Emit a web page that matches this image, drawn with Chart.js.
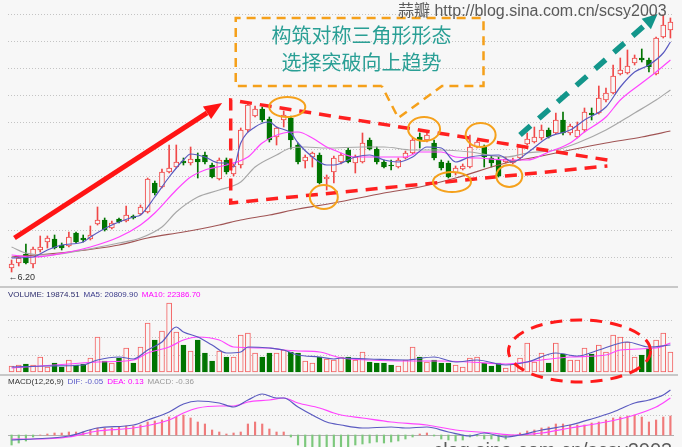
<!DOCTYPE html>
<html>
<head>
<meta charset="utf-8">
<script src="https://cdn.jsdelivr.net/npm/chart.js@4"></script>
<style>
  html, body { margin: 0; padding: 0; background: #f7f7f7; }
  canvas { display: block; }
</style>
</head>
<body>
<canvas id="kline" width="682" height="447"></canvas>
<script>
// daily bars, left to right
var days = Array.from({length: 93}, function (_, i) { return 'D' + (i + 1); });

var openP = [6.40, 6.65, 7.10, 6.60, 7.30, 7.70, 7.85, 7.55, 7.50, 8.15,
  7.90, 7.85, 8.60, 8.80, 8.40, 8.85, 8.75, 9.00, 9.10, 9.20,
  10.65, 10.45, 11.20, 11.45, 11.75, 11.65, 11.85, 12.05, 11.55, 10.85,
  11.80, 11.10, 11.55, 13.30, 14.00, 14.35, 13.85, 12.95, 13.80, 13.90,
  12.55, 11.75, 11.95, 12.05, 10.85, 11.20, 11.70, 12.30, 11.65, 11.70,
  12.80, 12.35, 11.70, 11.55, 11.45, 11.90, 12.15, 12.95, 12.80, 12.65,
  11.70, 11.65, 11.15, 11.35, 11.45, 12.45, 12.45, 11.90, 11.80, 11.70,
  11.65, 11.90, 12.60, 12.70, 12.90, 13.30, 13.15, 13.80, 13.15, 12.95,
  13.30, 14.15, 14.15, 14.80, 15.15, 16.10, 16.15, 16.65, 16.90, 16.80,
  16.10, 17.95, 18.30];
var closeP = [6.60, 6.90, 6.65, 7.35, 7.45, 7.90, 7.40, 7.40, 7.95, 7.70,
  7.80, 8.05, 8.80, 8.30, 8.65, 8.70, 9.05, 8.90, 9.45, 10.85,
  10.15, 11.20, 11.40, 11.70, 11.65, 11.85, 11.70, 11.70, 10.95, 11.80,
  11.20, 11.50, 13.30, 14.55, 14.35, 13.80, 12.80, 13.40, 14.05, 12.80,
  11.70, 11.95, 12.15, 10.65, 10.95, 11.90, 12.05, 11.70, 11.95, 12.65,
  12.35, 11.70, 11.45, 11.50, 11.80, 12.15, 12.80, 12.80, 13.05, 11.90,
  11.40, 10.95, 11.40, 11.50, 12.45, 12.70, 11.95, 11.65, 11.00, 11.85,
  11.80, 12.45, 12.85, 12.95, 13.30, 12.95, 13.80, 13.15, 13.50, 13.30,
  14.20, 14.05, 14.90, 15.15, 16.00, 16.30, 16.50, 16.90, 16.80, 16.45,
  17.90, 18.55, 18.70];
var highP = [6.80, 7.00, 7.60, 7.45, 8.00, 8.00, 8.05, 7.65, 8.20, 8.20,
  8.05, 8.50, 9.45, 8.90, 8.75, 8.90, 9.50, 9.05, 9.55, 10.90,
  10.75, 11.35, 12.55, 12.55, 11.90, 12.45, 12.15, 12.20, 11.65, 11.90,
  11.90, 11.60, 13.40, 14.65, 14.50, 14.45, 13.95, 13.45, 14.25, 14.00,
  12.65, 12.05, 12.20, 12.15, 11.05, 12.00, 12.15, 12.40, 12.05, 13.15,
  12.90, 12.45, 11.80, 11.80, 11.90, 12.25, 12.90, 13.15, 13.20, 12.80,
  11.80, 11.75, 11.50, 11.60, 13.05, 12.80, 12.55, 12.00, 11.95, 11.95,
  11.90, 12.55, 13.15, 13.45, 13.55, 13.40, 14.15, 14.20, 13.60, 13.70,
  14.40, 14.40, 15.50, 15.40, 16.55, 16.90, 17.30, 17.05, 17.35, 16.90,
  17.95, 19.05, 18.90];
var lowP = [6.20, 6.50, 6.60, 6.40, 7.20, 7.40, 7.35, 7.30, 7.45, 7.65,
  7.70, 7.80, 8.55, 8.25, 8.35, 8.65, 8.70, 8.85, 9.05, 9.15,
  10.05, 10.40, 11.15, 11.40, 11.55, 11.55, 10.90, 11.60, 10.90, 10.80,
  11.10, 11.00, 11.40, 13.20, 13.95, 13.70, 12.70, 12.55, 13.45, 12.35,
  11.60, 11.40, 11.45, 10.60, 10.30, 10.65, 11.60, 11.65, 11.15, 11.65,
  12.30, 11.60, 11.40, 11.30, 11.40, 11.85, 12.10, 12.40, 12.70, 11.80,
  11.30, 10.90, 11.05, 11.30, 11.40, 12.40, 11.45, 11.45, 10.95, 11.65,
  11.60, 11.80, 12.55, 12.65, 12.80, 12.90, 13.10, 13.05, 13.05, 12.90,
  13.20, 13.80, 14.10, 14.70, 15.10, 16.05, 16.10, 16.55, 16.70, 16.20,
  16.05, 17.90, 17.90];

var volume = [6000, 7000, 8000, 7000, 15000, 5000, 9000, 5000, 12000, 7000,
  8000, 14000, 35000, 11000, 9000, 14000, 24000, 9000, 25000, 49000,
  32000, 41000, 69000, 40000, 27000, 21000, 32000, 19000, 11000, 21000,
  15000, 15000, 37000, 39000, 19000, 15000, 19000, 19000, 22000, 20000,
  19000, 11000, 9000, 15000, 13000, 12000, 15000, 15000, 12000, 20000,
  10000, 9000, 9000, 7000, 6000, 12000, 25000, 15000, 10000, 12000,
  9000, 9000, 7000, 5000, 14000, 15000, 9000, 6000, 9000, 4000,
  8000, 14000, 29000, 10000, 19000, 9000, 29000, 18000, 12000, 12000,
  24000, 18000, 27000, 20000, 37000, 35000, 30000, 15000, 17000, 24000,
  32000, 39000, 19874.51];

var macdHist = [-0.10, -0.08, -0.06, -0.02, 0.00, 0.01, 0.02, 0.02, 0.03, 0.03,
  0.03, 0.05, 0.07, 0.07, 0.07, 0.08, 0.09, 0.09, 0.10, 0.13,
  0.14, 0.15, 0.18, 0.18, 0.20, 0.17, 0.13, 0.11, 0.05, 0.03,
  0.01, 0.02, 0.03, 0.11, 0.13, 0.11, 0.06, 0.03, 0.03, -0.02,
  -0.10, -0.14, -0.15, -0.16, -0.15, -0.14, -0.13, -0.12, -0.10, -0.09,
  -0.08, -0.07, -0.08, -0.07, -0.06, -0.04, -0.02, 0.01, 0.02, -0.01,
  -0.04, -0.05, -0.06, -0.05, -0.02, -0.01, -0.04, -0.04, -0.06, -0.04,
  0.00, 0.02, 0.04, 0.05, 0.07, 0.08, 0.11, 0.11, 0.10, 0.10,
  0.10, 0.12, 0.13, 0.15, 0.17, 0.18, 0.19, 0.20, 0.18, 0.13,
  0.15, 0.18, 0.19];

// moving averages: [bar index, value]
var ma5Pts = [[0, 6.90], [3, 6.95], [5, 7.30], [7, 7.55], [10, 7.70], [11, 7.95], [14, 8.55], [17, 8.95],
  [18, 9.05], [20, 9.95], [22, 10.95], [24, 11.80], [25, 12.10], [27, 11.95], [29, 11.65], [30, 11.65],
  [31, 11.45], [32, 12.65], [34, 13.45], [36, 13.70], [37, 13.45], [39, 13.15], [40, 12.65], [42, 11.95],
  [44, 11.55], [45, 11.55], [48, 11.95], [50, 12.05], [52, 11.80], [54, 11.70], [56, 11.95], [58, 12.45],
  [60, 12.40], [62, 11.70], [64, 11.95], [68, 12.05], [70, 11.70], [72, 12.15], [75, 12.95], [78, 13.30],
  [80, 13.80], [83, 14.45], [85, 15.45], [87, 16.20], [89, 16.55], [91, 17.15], [92, 17.70]];
var ma10Pts = [[0, 7.05], [3, 6.95], [8, 7.20], [11, 7.45], [15, 7.95], [18, 8.55], [20, 9.15], [23, 10.30],
  [25, 10.95], [27, 11.30], [30, 11.55], [33, 11.95], [35, 12.65], [38, 13.15], [40, 13.20], [42, 12.90],
  [44, 12.45], [45, 12.30], [48, 11.95], [51, 11.95], [55, 11.95], [57, 12.20], [60, 12.20], [62, 11.95],
  [65, 11.90], [69, 11.80], [72, 11.80], [75, 12.20], [78, 12.65], [80, 13.20], [83, 13.95], [85, 14.80],
  [88, 15.65], [90, 16.20], [92, 16.80]];
var ma30Pts = [[0, 7.45], [2, 7.15], [5, 7.05], [10, 7.30], [15, 7.65], [18, 7.90], [21, 8.45], [23, 9.20],
  [26, 9.95], [29, 10.30], [32, 10.70], [34, 11.45], [37, 12.05], [39, 12.40], [41, 12.45], [44, 12.40],
  [49, 12.45], [52, 12.45], [56, 12.30], [60, 12.30], [64, 12.20], [69, 11.95], [72, 12.15], [76, 12.30],
  [79, 12.65], [83, 13.30], [87, 14.15], [90, 14.80], [92, 15.30]];
var ma60Pts = [[0, 6.95], [8, 7.20], [15, 7.55], [19, 7.90], [24, 8.20], [29, 8.55], [32, 8.80], [36, 9.05],
  [40, 9.35], [45, 9.65], [52, 10.15], [57, 10.45], [62, 10.90], [69, 11.65], [74, 12.00], [78, 12.30],
  [83, 12.65], [88, 12.95], [92, 13.25]];

var volMa5Pts = [[0, 5000], [5, 6000], [10, 7000], [12, 12000], [15, 15000], [17, 13000], [19, 22000],
  [21, 30000], [23, 45000], [24, 40000], [26, 35000], [28, 27000], [30, 19000], [32, 20000], [33, 25000],
  [36, 24000], [38, 22000], [40, 17000], [43, 15000], [45, 13000], [46, 14000], [50, 13000], [55, 12000],
  [59, 15000], [62, 10000], [65, 12000], [69, 7000], [72, 10000], [76, 19000], [79, 16000], [82, 22000],
  [86, 30000], [89, 25000], [92, 27000]];
var volMa10Pts = [[0, 4000], [8, 8000], [12, 10000], [17, 12000], [19, 19000], [22, 25000], [24, 32000],
  [26, 35000], [29, 32000], [31, 25000], [36, 24000], [38, 22000], [40, 21000], [43, 20000], [45, 16000],
  [46, 14000], [50, 12000], [55, 11000], [60, 11000], [64, 10000], [69, 8000], [74, 12000], [78, 15000],
  [83, 17000], [85, 22000], [90, 24000], [92, 29000]];

var difPts = [[0, -0.05], [3, -0.04], [8, -0.01], [12, 0.07], [17, 0.10], [19, 0.15], [22, 0.23], [24, 0.31],
  [26, 0.34], [29, 0.32], [31, 0.28], [33, 0.35], [35, 0.41], [37, 0.37], [38, 0.37], [40, 0.28], [42, 0.20],
  [44, 0.13], [46, 0.10], [49, 0.07], [53, 0.08], [55, 0.07], [58, 0.08], [61, 0.03], [64, -0.01], [66, 0.02],
  [69, -0.02], [71, 0.00], [74, 0.05], [78, 0.10], [81, 0.16], [84, 0.23], [87, 0.32], [89, 0.35], [91, 0.40],
  [92, 0.45]];
var deaPts = [[0, -0.04], [3, -0.04], [8, -0.02], [12, 0.04], [17, 0.07], [22, 0.15], [24, 0.22], [26, 0.27],
  [29, 0.29], [31, 0.29], [33, 0.33], [36, 0.35], [38, 0.37], [40, 0.32], [43, 0.27], [45, 0.22], [46, 0.20],
  [49, 0.17], [53, 0.13], [58, 0.10], [62, 0.05], [67, 0.02], [70, 0.00], [74, 0.02], [78, 0.07], [83, 0.13],
  [87, 0.20], [90, 0.28], [92, 0.37]];

var priceGrid = [19.1, 17.75, 16.4, 15.05, 13.7, 12.35, 11.0, 9.65, 8.3, 6.95];
var volGrid = [17500, 35000, 52500];
var macdGrid = [0.2, 0.4];

var BG = '#f7f7f7';
var RED = '#f04848';
var GREEN = '#007400';

var isUp = openP.map(function (o, i) { return closeP[i] >= o; });

function pts(list) {
  return list.map(function (p) { return {x: days[p[0]], y: p[1]}; });
}

function maLine(list, color, axis) {
  return {
    type: 'line', data: pts(list), yAxisID: axis, borderColor: color, borderWidth: 1.2,
    pointRadius: 0, cubicInterpolationMode: 'monotone', order: 0
  };
}

function arrow(ctx, x1, y1, x2, y2, color, width, dash, headLen, headW) {
  var ang = Math.atan2(y2 - y1, x2 - x1);
  var bx = x2 - headLen * Math.cos(ang), by = y2 - headLen * Math.sin(ang);
  ctx.save();
  ctx.strokeStyle = color; ctx.fillStyle = color; ctx.lineWidth = width;
  ctx.setLineDash(dash);
  ctx.beginPath(); ctx.moveTo(x1, y1); ctx.lineTo(bx, by); ctx.stroke();
  ctx.setLineDash([]);
  ctx.beginPath();
  ctx.moveTo(x2, y2);
  ctx.lineTo(bx + headW / 2 * Math.sin(ang), by - headW / 2 * Math.cos(ang));
  ctx.lineTo(bx - headW / 2 * Math.sin(ang), by + headW / 2 * Math.cos(ang));
  ctx.closePath(); ctx.fill();
  ctx.restore();
}

function segments(ctx, x, y, parts) {
  parts.forEach(function (p) {
    ctx.fillStyle = p[1];
    ctx.fillText(p[0], x, y);
    x += ctx.measureText(p[0]).width + 4;
  });
}

var overlay = {
  id: 'overlay',
  beforeDatasetsDraw: function (chart) {
    var ctx = chart.ctx, a = chart.chartArea, s = chart.scales;
    ctx.save();
    ctx.lineWidth = 1;
    ctx.strokeStyle = '#c4c4c4';
    ctx.setLineDash([1, 2]);
    [['y', priceGrid], ['yVol', volGrid], ['yMacd', macdGrid]].forEach(function (g) {
      g[1].forEach(function (v) {
        var yy = Math.round(s[g[0]].getPixelForValue(v)) + 0.5;
        ctx.beginPath(); ctx.moveTo(a.left, yy); ctx.lineTo(a.right, yy); ctx.stroke();
      });
    });
    ctx.setLineDash([]);
    var z = Math.round(s.yMacd.getPixelForValue(0)) + 0.5;
    ctx.strokeStyle = '#b0b0b0';
    ctx.beginPath(); ctx.moveTo(a.left, z); ctx.lineTo(a.right, z); ctx.stroke();
    ctx.lineWidth = 2;
    ctx.strokeStyle = '#c8c8c8';
    [s.yVol.top - 1, s.yMacd.top].forEach(function (yy) {
      ctx.beginPath(); ctx.moveTo(0, yy); ctx.lineTo(chart.width - 4, yy); ctx.stroke();
    });
    ctx.restore();
  },
  afterDatasetsDraw: function (chart) {
    var ctx = chart.ctx, s = chart.scales;
    var X = function (i) { return s.x.getPixelForValue(i); };
    var Y = function (v) { return s.y.getPixelForValue(v); };
    ctx.save();

    // rising trend arrow
    arrow(ctx, X(0.4), Y(7.9), X(29.4), Y(14.65), '#ff1414', 5, [], 18, 15);

    // symmetric triangle
    ctx.strokeStyle = '#ff2020'; ctx.lineWidth = 3.5; ctx.setLineDash([12, 8]);
    ctx.beginPath();
    ctx.moveTo(X(83.2), Y(11.8)); ctx.lineTo(X(30.6), Y(14.8));
    ctx.lineTo(X(30.6), Y(9.65)); ctx.lineTo(X(83.2), Y(11.5));
    ctx.stroke();

    // touch points
    ctx.setLineDash([]); ctx.strokeStyle = '#f5a11c'; ctx.lineWidth = 2;
    [[38.5, 14.45, 18, 10], [43.6, 9.95, 14, 12], [57.6, 13.35, 16, 12],
     [65.5, 13.05, 15, 12], [61.5, 10.7, 19, 10], [69.5, 11.0, 13, 11]].forEach(function (e) {
      ctx.beginPath(); ctx.ellipse(X(e[0]), Y(e[1]), e[2], e[3], 0, 0, Math.PI * 2); ctx.stroke();
    });

    // breakout arrow
    arrow(ctx, X(71.0), Y(13.05), X(90.2), Y(19.1), '#13968b', 5.5, [14, 11], 15, 14);

    // callout box
    var bl = X(31.3), br = X(65.9), bt = Y(18.9), bb = Y(15.5);
    ctx.strokeStyle = '#f5a01a'; ctx.lineWidth = 2.5; ctx.setLineDash([9, 6]);
    ctx.beginPath();
    ctx.moveTo(X(51.7), bb); ctx.lineTo(bl, bb); ctx.lineTo(bl, bt); ctx.lineTo(br, bt);
    ctx.lineTo(br, bb); ctx.lineTo(X(60.1), bb); ctx.lineTo(X(54.0), Y(13.9)); ctx.lineTo(X(51.7), bb);
    ctx.stroke();
    ctx.setLineDash([]);
    ctx.fillStyle = '#2a9f95';
    ctx.font = '20px "Noto Sans CJK SC"';
    ctx.textAlign = 'center'; ctx.textBaseline = 'middle';
    ctx.fillText('构筑对称三角形形态', (bl + br) / 2 + 2, Y(18.05));
    ctx.fillText('选择突破向上趋势', (bl + br) / 2 + 2, Y(16.7));

    // volume cluster
    ctx.strokeStyle = '#ff1a1a'; ctx.lineWidth = 3; ctx.setLineDash([12, 8]);
    ctx.beginPath();
    ctx.ellipse(X(79.3), s.yVol.getPixelForValue(21000), 71, 31, 0, 0, Math.PI * 2);
    ctx.stroke();
    ctx.setLineDash([]);

    // low marker
    ctx.textAlign = 'left'; ctx.textBaseline = 'middle';
    ctx.font = '9px "Liberation Sans"'; ctx.fillStyle = '#333';
    ctx.fillText('\u2190' + '6.20', X(0) - 3, Y(6.2) + 6);

    // panel captions
    ctx.font = '8px "Liberation Sans"';
    segments(ctx, 8, s.yVol.top + 7, [['VOLUME: 19874.51', '#2c2c6c'], ['MA5: 20809.90', '#3a3a8a'], ['MA10: 22386.70', '#ff00ff']]);
    segments(ctx, 8, s.yMacd.top + 7, [['MACD(12,26,9)', '#333'], ['DIF: -0.05', '#5a5ac8'], ['DEA: 0.13', '#ff00ff'], ['MACD: -0.36', '#999']]);

    // watermarks
    ctx.fillStyle = '#5a5a5a';
    ctx.font = '16px "Liberation Sans", "Noto Sans CJK SC"';
    ctx.textBaseline = 'alphabetic';
    ctx.fillText('蒜瓣 http://blog.sina.com.cn/scsy2003', 398, 16);
    ctx.save();
    ctx.beginPath(); ctx.rect(436, 430, 246, 20); ctx.clip();
    ctx.font = '20px "Liberation Sans"';
    ctx.fillText('http://blog.sina.com.cn/scsy2003', 382, 457);
    ctx.restore();
    ctx.restore();
  }
};

var ctx = document.getElementById('kline').getContext('2d');

var chart = new Chart(ctx, {
  type: 'bar',
  data: {
    labels: days,
    datasets: [
      {
        data: lowP.map(function (l, i) { return [l, highP[i]]; }),
        yAxisID: 'y', grouped: false, barThickness: 1, order: 3,
        backgroundColor: isUp.map(function (u) { return u ? RED : GREEN; })
      },
      {
        data: openP.map(function (o, i) { return [o, closeP[i]]; }),
        yAxisID: 'y', grouped: false, barThickness: 5, order: 2,
        backgroundColor: isUp.map(function (u) { return u ? BG : GREEN; }),
        borderColor: isUp.map(function (u) { return u ? RED : GREEN; }),
        borderWidth: 1, borderSkipped: false
      },
      {
        data: volume, yAxisID: 'yVol', grouped: false, barThickness: 5, order: 2,
        backgroundColor: isUp.map(function (u) { return u ? BG : GREEN; }),
        borderColor: isUp.map(function (u) { return u ? '#f36060' : GREEN; }),
        borderWidth: 1, borderSkipped: false
      },
      {
        data: macdHist, yAxisID: 'yMacd', grouped: false, barThickness: 1.5, order: 2,
        backgroundColor: macdHist.map(function (v) { return v >= 0 ? '#f07a7a' : '#7cc87c'; })
      },
      maLine(ma5Pts, '#5a5ac0', 'y'),
      maLine(ma10Pts, '#ff44ff', 'y'),
      maLine(ma30Pts, '#a8a8a8', 'y'),
      maLine(ma60Pts, '#a05454', 'y'),
      maLine(volMa5Pts, '#5a5ac0', 'yVol'),
      maLine(volMa10Pts, '#ff44ff', 'yVol'),
      maLine(difPts, '#5a5ac0', 'yMacd'),
      maLine(deaPts, '#ff44ff', 'yMacd')
    ]
  },
  options: {
    responsive: false,
    animation: false,
    devicePixelRatio: 1,
    layout: {padding: {left: 8, right: 8, top: 0, bottom: 0}},
    plugins: {legend: {display: false}, tooltip: {enabled: false}},
    scales: {
      x: {display: false, offset: true},
      y: {display: false, position: 'right', stack: 'panels', stackWeight: 288, min: 5.4, max: 19.8},
      yVol: {display: false, position: 'right', stack: 'panels', stackWeight: 87, min: -3000, max: 84000},
      yMacd: {display: false, position: 'right', stack: 'panels', stackWeight: 72, min: -0.12, max: 0.6}
    }
  },
  plugins: [overlay]
});
</script>
</body>
</html>
